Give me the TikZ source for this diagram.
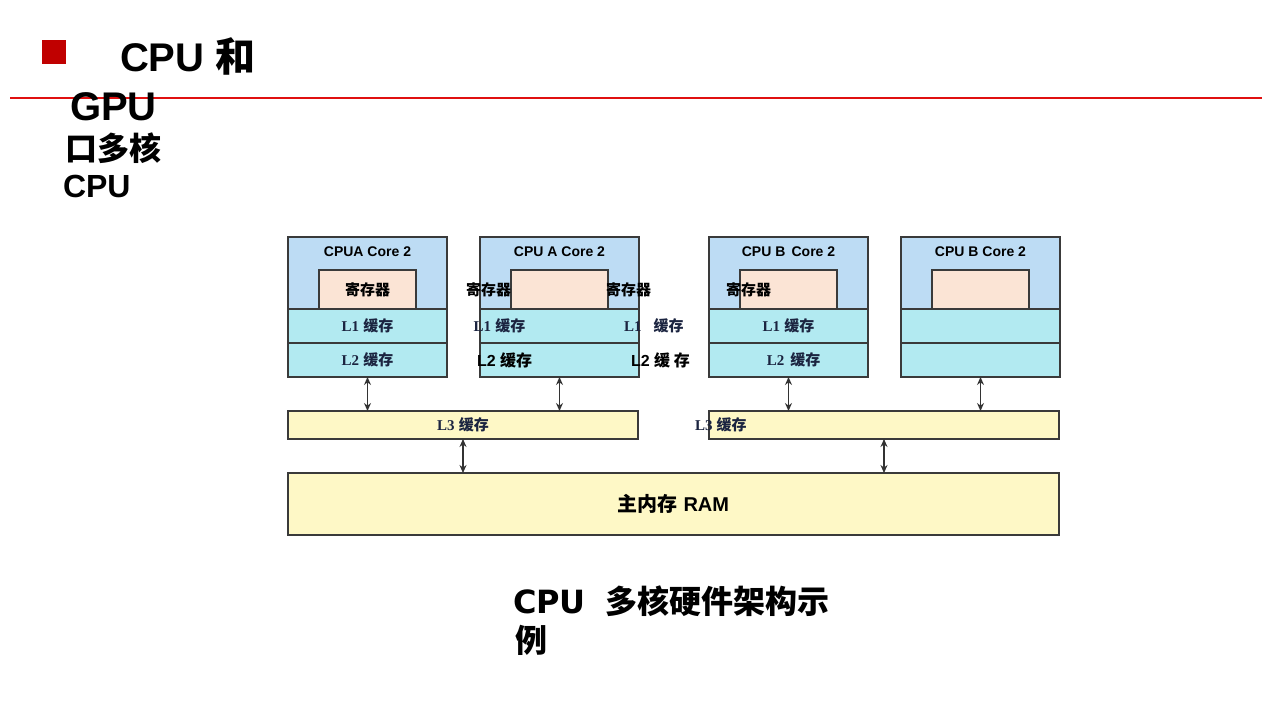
\documentclass[tikz,border=0pt]{standalone}
\usepackage{fontspec}
\setmainfont{Liberation Sans}
\newfontfamily\cjk{Noto Sans CJK SC}
\newfontfamily\lserif{Liberation Serif}
\newfontfamily\capfont{DejaVu Sans}
\usepackage{tikz}
\usetikzlibrary{arrows.meta,positioning}
\definecolor{coreblue}{HTML}{BDDCF4}
\definecolor{regpeach}{HTML}{FBE4D5}
\definecolor{cachecyan}{HTML}{B2EAF1}
\definecolor{memyellow}{HTML}{FEF8C6}
\definecolor{titlered}{HTML}{C00000}
\definecolor{linered}{HTML}{E01010}
\definecolor{darknavy}{HTML}{1B2440}
\definecolor{boxedge}{HTML}{3A3A3A}

\begin{document}
\begin{tikzpicture}[x=0.5pt,y=-0.5pt,inner sep=0pt,outer sep=0pt]
        \tikzstyle{core_top}=[draw=boxedge,line width=0.7pt,fill=coreblue,minimum width=79.5pt,minimum height=36pt,anchor=north west]
        \tikzstyle{cache_row}=[draw=boxedge,line width=0.7pt,fill=cachecyan,minimum width=79.5pt,minimum height=17pt,anchor=north]
        \tikzstyle{reg_box}=[draw=boxedge,line width=0.7pt,fill=regpeach,minimum width=48.5pt,minimum height=19.5pt,anchor=south]
        \tikzstyle{mem_box}=[draw=boxedge,line width=0.7pt,fill=memyellow,anchor=north west]
        \tikzstyle{core_lbl}=[font=\fontsize{7}{8}\selectfont\bfseries]
        \tikzstyle{reg_lbl}=[font=\fontsize{7.5}{8}\selectfont\cjk\bfseries]
        \tikzstyle{cache_lbl}=[font=\fontsize{7.5}{8}\selectfont\bfseries,text=darknavy]
        \tikzstyle{bus}=[{Stealth[length=4pt,width=3.5pt]}-{Stealth[length=4pt,width=3.5pt]},line width=0.55pt,black!80]

    \useasboundingbox (0,0) rectangle (1280,719);

    % title
    \node[fill=titlered,minimum size=12pt,anchor=north west] (bullet) at (42,40) {};
    \draw[linered,line width=1.2pt] (10,98) coordinate (rule_l) -- (1262,98) coordinate (rule_r);
    \node[anchor=base west,font=\fontsize{20}{24}\selectfont\bfseries] (title1) at (120,71) {CPU {\cjk 和}};
    \node[anchor=base west,font=\fontsize{20}{24}\selectfont\bfseries] (title2) at (70,120) {GPU};
    \node[anchor=base west,font=\fontsize{16}{19}\selectfont\bfseries\cjk] (sub1) at (65,160) {口多核};
    \node[anchor=base west,font=\fontsize{16}{19}\selectfont\bfseries] (sub2) at (63,197) {CPU};

    % cores
    \node[core_top]  (topA1) at (288,237) {};
    \node[cache_row] (l1A1) at (topA1.south) {};
    \node[cache_row] (l2A1) at (l1A1.south) {};
    \node[reg_box]   (regA1) at (topA1.south) {};

    \node[core_top]  (topA2) at (480,237) {};
    \node[cache_row] (l1A2) at (topA2.south) {};
    \node[cache_row] (l2A2) at (l1A2.south) {};
    \node[reg_box]   (regA2) at (topA2.south) {};

    \node[core_top]  (topB1) at (709,237) {};
    \node[cache_row] (l1B1) at (topB1.south) {};
    \node[cache_row] (l2B1) at (l1B1.south) {};
    \node[reg_box]   (regB1) at (topB1.south) {};

    \node[core_top]  (topB2) at (901,237) {};
    \node[cache_row] (l1B2) at (topB2.south) {};
    \node[cache_row] (l2B2) at (l1B2.south) {};
    \node[reg_box]   (regB2) at (topB2.south) {};

    \node[core_lbl] (nameA1) at ([yshift=-7.5pt]topA1.north) {CPUA Core 2};
    \node[core_lbl] (nameA2) at ([yshift=-7.5pt]topA2.north) {CPU A Core 2};
    \node[core_lbl] (nameB1) at ([yshift=-7.5pt]topB1.north) {CPU B\, Core 2};
    \node[core_lbl] (nameB2) at ([yshift=-7.5pt]topB2.north) {CPU B Core 2};

    \node[reg_lbl] (regA1txt) at (regA1) {寄存器};
    \node[reg_lbl,anchor=east] (regA2l) at (regA2.west) {寄存器};
    \node[reg_lbl,anchor=west] (regA2r) at ([xshift=-1pt]regA2.east) {寄存器};
    \node[reg_lbl] (regB1txt) at ([xshift=4.25pt]regB1.west) {寄存器};

    \node[cache_lbl] (l1A1txt) at (l1A1) {{\lserif L1} {\cjk 缓存}};
    \node[cache_lbl] (l1A2l) at ([xshift=-30pt]l1A2.center) {{\lserif L1} {\cjk 缓存}};
    \node[cache_lbl,anchor=west] (l1A2r) at ([xshift=-7.5pt]l1A2.east) {{\lserif L1}\hspace{6pt}{\cjk 缓存}};
    \node[cache_lbl] (l1B1txt) at (l1B1) {{\lserif L1} {\cjk 缓存}};

    \node[cache_lbl] (l2A1txt) at (l2A1) {{\lserif L2} {\cjk 缓存}};
    \node[cache_lbl,text=black,anchor=west] (l2A2l) at ([xshift=-1.5pt]l2A2.west) {\fontsize{8}{9}\selectfont L2 {\cjk 缓存}};
    \node[cache_lbl,text=black,anchor=west] (l2A2r) at ([xshift=-4pt]l2A2.east) {\fontsize{8}{9}\selectfont L2 {\cjk 缓 存}};
    \node[cache_lbl] (l2B1txt) at ([xshift=2.5pt]l2B1.center) {{\lserif L2}\hspace{3pt}{\cjk 缓存}};

    % shared caches and memory
    \node[mem_box,minimum width=175pt,minimum height=14pt] (l3A) at (288,411) {};
    \node[mem_box,minimum width=175pt,minimum height=14pt] (l3B) at (709,411) {};
    \node[mem_box,minimum width=385.5pt,minimum height=31pt,font=\fontsize{10}{12}\selectfont\bfseries] (ram) at (288,473) {{\cjk 主内存} RAM};
    \node[cache_lbl] (l3Atxt) at (l3A) {{\lserif L3} {\cjk 缓存}};
    \node[cache_lbl,anchor=west] (l3Btxt) at ([xshift=-7pt]l3B.west) {{\lserif L3} {\cjk 缓存}};

    \path[bus]
    (l2A1.south) edge (l2A1.south |- l3A.north)
    (l2A2.south) edge (l2A2.south |- l3A.north)
    (l2B1.south) edge (l2B1.south |- l3B.north)
    (l2B2.south) edge (l2B2.south |- l3B.north)
    (l3A.south) edge (l3A.south |- ram.north)
    (l3B.south) edge (l3B.south |- ram.north);

    % caption
    \node[anchor=base west,font=\fontsize{16}{19}\selectfont\bfseries] (cap1) at (513,613) {{\capfont CPU}\hspace{10pt}{\cjk 多核硬件架构示}};
    \node[anchor=base west,font=\fontsize{16}{19}\selectfont\bfseries\cjk] (cap2) at (515,652) {例};
    \end{tikzpicture}
\end{document}
